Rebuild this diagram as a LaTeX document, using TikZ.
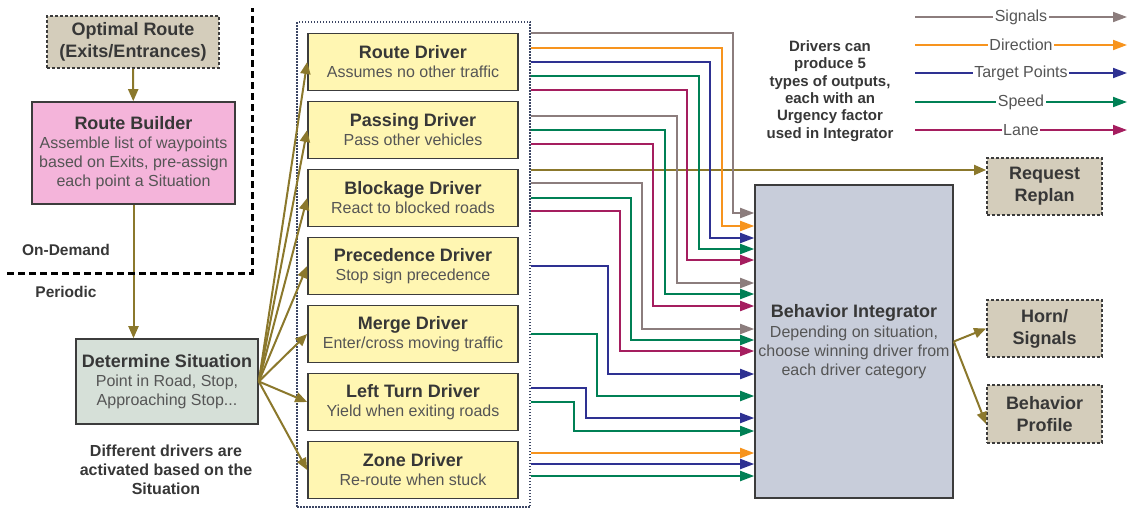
\documentclass[tikz,border=0pt]{standalone}
\usepackage{fontspec}
\setmainfont{Liberation Sans}
\usetikzlibrary{arrows.meta}
\definecolor{flowcol}{RGB}{139,120,44}
\definecolor{boxline}{RGB}{60,60,60}
\definecolor{titlecol}{RGB}{55,55,55}
\definecolor{subcol}{RGB}{85,85,85}
\definecolor{drvfill}{RGB}{255,246,178}
\definecolor{extfill}{RGB}{212,205,187}
\definecolor{pinkfill}{RGB}{244,180,218}
\definecolor{sitfill}{RGB}{214,224,216}
\definecolor{integfill}{RGB}{200,205,218}
\definecolor{groupline}{RGB}{60,70,100}
\definecolor{sigcol}{RGB}{140,125,125}
\definecolor{dircol}{RGB}{247,148,30}
\definecolor{tgtcol}{RGB}{46,49,146}
\definecolor{spdcol}{RGB}{0,128,85}
\definecolor{lanecol}{RGB}{165,30,95}
\newcommand{\btitle}[1]{{\fontsize{18}{19}\selectfont\bfseries\color{titlecol}#1}}

\begin{document}
\begin{tikzpicture}[x=1pt, y=-1pt,
  box/.style={draw=boxline, line width=1.6pt, align=center, inner sep=0pt, text=subcol, font=\fontsize{16}{19}\selectfont},
  drv/.style={box, fill=drvfill, minimum width=210pt, minimum height=57pt},
  ext/.style={box, fill=extfill, dash pattern=on 3pt off 2pt, line width=1.8pt, minimum width=115pt, minimum height=57pt, text=titlecol, font=\fontsize{18}{22}\selectfont\bfseries},
  flow/.style={draw=flowcol, fill=flowcol, line width=2pt, -{Triangle[length=12pt,width=10pt]}},
  feed/.style={line width=1.8pt, -{Triangle[length=14pt,width=10pt]}},
  legtext/.style={fill=white, inner sep=1.5pt, text=subcol, font=\fontsize{16}{19}\selectfont},
  note/.style={align=center, text=titlecol, font=\fontsize{15}{17.4}\selectfont\bfseries}]
\useasboundingbox (0,0) rectangle (1134,508);

% route planning side
\node[ext, minimum width=172pt, minimum height=52pt] at (133,42) (optroute) {Optimal Route\\(Exits/Entrances)};
\node[box, fill=pinkfill, minimum width=203pt, minimum height=102pt] at (133.5,153) (builder) {\btitle{Route Builder}\\Assemble list of waypoints\\based on Exits, pre-assign\\each point a Situation};
\node[box, fill=sitfill, minimum width=182pt, minimum height=85pt] at (167,381.5) (sit) {\btitle{Determine Situation}\\Point in Road, Stop,\\Approaching Stop...};
\draw[flow] (optroute) -- (builder);
\draw[flow] (builder.south) -- (builder.south |- sit.north);

% on-demand / periodic split
\coordinate (cutl) at (7,273);
\coordinate (cutc) at (252,273);
\coordinate (cutt) at (252,8);
\draw[line width=3pt, dash pattern=on 7pt off 4pt] (cutl) -- (cutc) -- (cutt);
\node[note, font=\fontsize{15.5}{18}\selectfont\bfseries] at (66,250) (ondemand) {On-Demand};
\node[note, font=\fontsize{15.5}{18}\selectfont\bfseries] at (66,292) (periodic) {Periodic};
\node[note, font=\fontsize{16}{19}\selectfont\bfseries] at (166,470) (sitnote) {Different drivers are\\activated based on the\\Situation};

% drivers
\node[draw=groupline, line width=1.5pt, dash pattern=on 1.5pt off 1.5pt, minimum width=233pt, minimum height=485pt] at (413.5,264.5) (drvgroup) {};
\node[drv] at (413,62) (route) {\btitle{Route Driver}\\Assumes no other traffic};
\node[drv] at (413,130) (passing) {\btitle{Passing Driver}\\Pass other vehicles};
\node[drv] at (413,198) (blockage) {\btitle{Blockage Driver}\\React to blocked roads};
\node[drv] at (413,266) (precedence) {\btitle{Precedence Driver}\\Stop sign precedence};
\node[drv] at (413,334) (merge) {\btitle{Merge Driver}\\Enter/cross moving traffic};
\node[drv] at (413,402) (leftturn) {\btitle{Left Turn Driver}\\Yield when exiting roads};
\node[drv] at (413,470) (zone) {\btitle{Zone Driver}\\Re-route when stuck};
\foreach \d in {route,passing,blockage,precedence,merge,leftturn,zone}
  \draw[flow] (sit.east) -- (\d.west);

% integrator and its outputs
\node[box, fill=integfill, minimum width=198pt, minimum height=313pt] at (854,341.5) (integ) {\btitle{Behavior Integrator}\\[1pt]Depending on situation,\\choose winning driver from\\each driver category};
\node[ext] at (1044.5,186.5) (replan) {Request\\Replan};
\node[ext] at (1044.5,328.5) (horn) {Horn/\\Signals};
\node[ext, minimum height=58pt] at (1044.5,414) (profile) {Behavior\\Profile};
\draw[flow] (drvgroup.east |- 0,170) -- (replan.west |- 0,170);
\draw[flow] (integ.east) -- (horn.west);
\draw[flow] (integ.east) -- ([yshift=-10pt]profile.west);

% driver outputs
\foreach \c/\ya/\xc/\yb in {sigcol/33/733/213, dircol/48/722/226, tgtcol/62/710/238, spdcol/76/699/249, lanecol/90/687/260,
    sigcol/116/677/283, spdcol/130/665/294, lanecol/144/653/306,
    sigcol/183/642/329, spdcol/198/631/340, lanecol/211/620/351,
    tgtcol/266/608/374, spdcol/334/597/396, tgtcol/388/586/418, spdcol/402/574/431,
    dircol/453/700/453, tgtcol/464/700/464, spdcol/476/700/476}
  \draw[feed, \c] (drvgroup.east |- 0,\ya) -| (\xc,\yb) -- (integ.west |- 0,\yb);

% legend
\node[note] at (830,91) (outnote) {Drivers can\\produce 5\\types of outputs,\\each with an\\Urgency factor\\used in Integrator};
\foreach \c/\t/\y in {sigcol/Signals/17, dircol/Direction/45, tgtcol/Target Points/73, spdcol/Speed/102, lanecol/Lane/130} {
  \coordinate (ls\y) at (915,\y);
  \coordinate (le\y) at (1127,\y);
  \draw[feed, \c] (ls\y) -- node[legtext] {\t} (le\y);
}
\end{tikzpicture}
\end{document}
